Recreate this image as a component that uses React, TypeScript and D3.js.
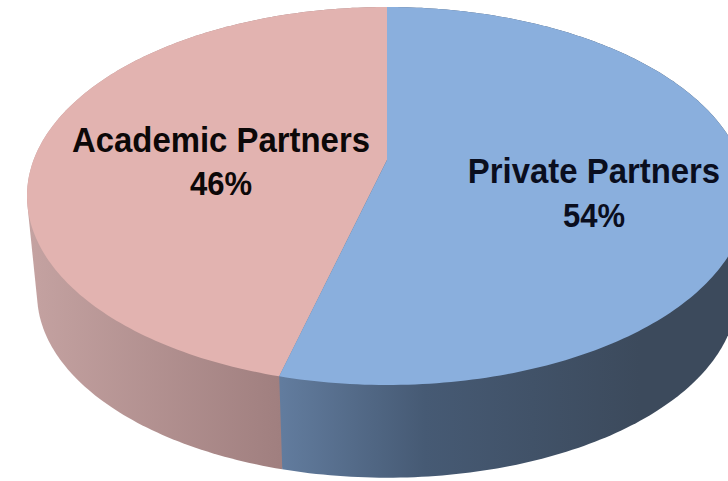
import React from "react";
import * as d3 from "d3";

// Partner shares, starting at twelve o'clock and running counter-clockwise.
const categories = ["Academic Partners", "Private Partners"];
const shares = [46, 54];
const topColors = ["#e2b3b0", "#8aafdd"];
const labelColors = ["#0c0808", "#0a0e1e"];
const wallStops = [
  [
    ["0%", "#c4a2a1"],
    ["100%", "#a07f7f"],
  ],
  [
    ["0%", "#627c9e"],
    ["40%", "#465a74"],
    ["100%", "#3c4a5c"],
  ],
];
const wallRanges = [
  [30, 281],
  [281, 640],
];
const labelAnchors = [
  { x: 221, nameY: 152, valueY: 195 },
  { x: 594, nameY: 183, valueY: 227 },
];

const WIDTH = 728;
const HEIGHT = 481;
const CX = 387;
const DEPTH = 98;
const BASE_SCALE = 0.972;
const NAME_SIZE = 35;
const VALUE_SIZE = 33;
const GLYPH_SQUEEZE = 0.94;

// Perspective projection of the pie's circular disc onto the page.
const K = 353.4;
const APEX_Y = 160;
const TOP_Y = 7;
const BOTTOM_Y = 385;
const PERSPECTIVE = (2 * APEX_Y - BOTTOM_Y - TOP_Y) / (BOTTOM_Y - TOP_Y);
const SLOPE = BOTTOM_Y * (1 + PERSPECTIVE) - APEX_Y;

// Angle is measured from twelve o'clock, counter-clockwise on the page.
function project(angle: number, base = false): [number, number] {
  const u = -Math.sin(angle);
  const v = -Math.cos(angle);
  const w = 1 + PERSPECTIVE * v;
  const x = (K * u) / w;
  const y = (APEX_Y + SLOPE * v) / w;
  if (!base) return [CX + x, y];
  return [CX + x * BASE_SCALE, y * BASE_SCALE + (1 - BASE_SCALE) * 196 + DEPTH];
}

const pie = d3
  .pie<number>()
  .sort(null)
  .value((d) => d);
const arcs = pie(shares);
const line = d3.line();

function arcAngles(start: number, end: number): number[] {
  const n = Math.max(2, Math.ceil((end - start) * 60));
  return d3.range(n + 1).map((i) => start + ((end - start) * i) / n);
}

function topPath(start: number, end: number): string {
  const rim = arcAngles(start, end).map((a) => project(a));
  return line([[CX, APEX_Y], ...rim]) + "Z";
}

// The side wall is the hull of a slice's rim and the same rim on the base,
// which gives the straight silhouette edges of the cylinder.
function wallPath(start: number, end: number): string {
  const angles = arcAngles(start, end);
  const points = [
    ...angles.map((a) => project(a)),
    ...angles.map((a) => project(a, true)),
  ];
  const hull = d3.polygonHull(points) ?? [];
  return line(hull) + "Z";
}

export default function App() {
  return (
    <svg
      width={WIDTH}
      height={HEIGHT}
      viewBox={`0 0 ${WIDTH} ${HEIGHT}`}
      style={{ position: "absolute", left: 0, top: 0, background: "#fff" }}
    >
      <defs>
        {wallStops.map((stops, i) => (
          <linearGradient
            key={i}
            id={`wall-${i}`}
            gradientUnits="userSpaceOnUse"
            x1={wallRanges[i][0]}
            x2={wallRanges[i][1]}
            y1={0}
            y2={0}
          >
            {stops.map(([offset, color]) => (
              <stop key={offset} offset={offset} stopColor={color} />
            ))}
          </linearGradient>
        ))}
      </defs>
      {arcs.map((a, i) => (
        <path
          key={`wall-${i}`}
          d={wallPath(a.startAngle, a.endAngle)}
          fill={`url(#wall-${i})`}
        />
      ))}
      {arcs.map((a, i) => (
        <path
          key={`top-${i}`}
          d={topPath(a.startAngle, a.endAngle)}
          fill={topColors[i]}
        />
      ))}
      {categories.map((name, i) => {
        const { x, nameY, valueY } = labelAnchors[i];
        const font = {
          textAnchor: "middle" as const,
          fontFamily: "'Liberation Sans', Arial, sans-serif",
          fontWeight: "bold",
          fill: labelColors[i],
        };
        return (
          <g key={name}>
            <text
              {...font}
              fontSize={NAME_SIZE}
              transform={`translate(${x},${nameY}) scale(${GLYPH_SQUEEZE},1)`}
            >
              {name}
            </text>
            <text
              {...font}
              fontSize={VALUE_SIZE}
              transform={`translate(${x},${valueY}) scale(${GLYPH_SQUEEZE},1)`}
            >
              {shares[i]}%
            </text>
          </g>
        );
      })}
    </svg>
  );
}
